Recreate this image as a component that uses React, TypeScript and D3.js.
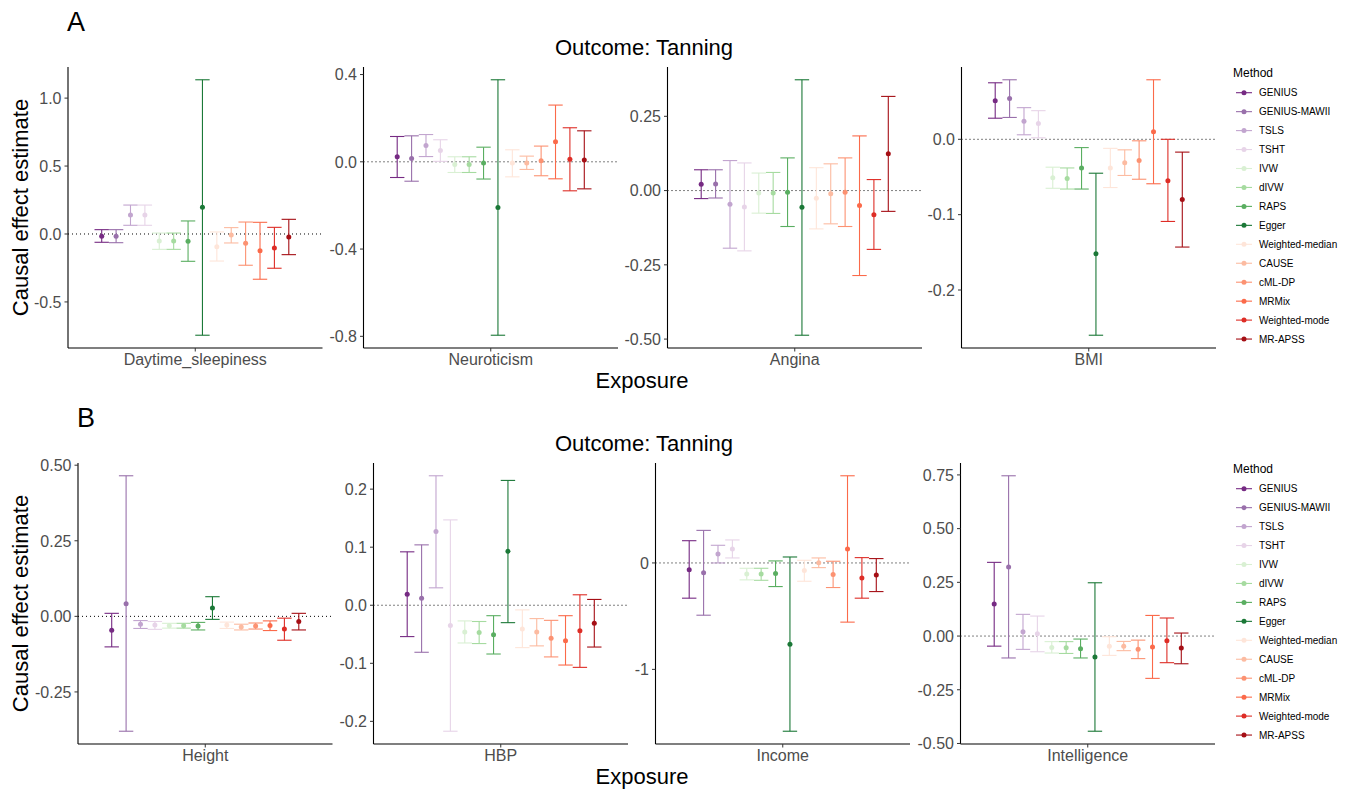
import React from "react";
import * as d3 from "d3";

const methods = [
  "GENIUS", "GENIUS-MAWII", "TSLS", "TSHT", "IVW", "dIVW", "RAPS", "Egger",
  "Weighted-median", "CAUSE", "cML-DP", "MRMix", "Weighted-mode", "MR-APSS",
];
const methodColors = [
  "#762a83", "#9970ab", "#c2a5cf", "#e7d4e8", "#d9f0d3", "#a6dba0", "#5aae61", "#1b7837",
  "#fee5d9", "#fcbba1", "#fc9272", "#fb6a4a", "#de2d26", "#a50f15",
];

const outcomeTitle = "Outcome: Tanning";

// Row A
const daytimeEst = [-0.017, -0.017, 0.14, 0.14, -0.051, -0.051, -0.054, 0.196, -0.093, -0.007, -0.069, -0.123, -0.103, -0.022];
const daytimeLo = [-0.061, -0.064, 0.064, 0.064, -0.113, -0.113, -0.201, -0.745, -0.199, -0.066, -0.23, -0.333, -0.252, -0.152];
const daytimeHi = [0.032, 0.032, 0.213, 0.213, 0.007, 0.007, 0.096, 1.135, 0.015, 0.047, 0.088, 0.086, 0.049, 0.108];
const daytimeTicks = ["-0.5", "0.0", "0.5", "1.0"];

const neuroEst = [0.023, 0.015, 0.075, 0.052, -0.012, -0.012, -0.006, -0.209, -0.006, -0.005, 0.005, 0.092, 0.012, 0.008];
const neuroLo = [-0.072, -0.089, 0.024, 0.002, -0.049, -0.049, -0.079, -0.795, -0.069, -0.035, -0.064, -0.078, -0.133, -0.124];
const neuroHi = [0.116, 0.119, 0.125, 0.101, 0.023, 0.023, 0.067, 0.376, 0.055, 0.026, 0.072, 0.26, 0.156, 0.142];
const neuroTicks = ["-0.8", "-0.4", "0.0", "0.4"];

const anginaEst = [0.021, 0.022, -0.046, -0.055, -0.008, -0.008, -0.006, -0.056, -0.026, -0.011, -0.006, -0.05, -0.081, 0.124];
const anginaLo = [-0.027, -0.025, -0.194, -0.203, -0.076, -0.077, -0.121, -0.487, -0.129, -0.112, -0.121, -0.286, -0.198, -0.07];
const anginaHi = [0.07, 0.07, 0.101, 0.093, 0.059, 0.061, 0.11, 0.373, 0.077, 0.09, 0.11, 0.184, 0.037, 0.317];
const anginaTicks = ["-0.50", "-0.25", "0.00", "0.25"];

const bmiEst = [0.051, 0.054, 0.024, 0.021, -0.051, -0.052, -0.038, -0.152, -0.038, -0.031, -0.028, 0.01, -0.055, -0.08];
const bmiLo = [0.028, 0.029, 0.006, 0.002, -0.065, -0.066, -0.066, -0.26, -0.064, -0.048, -0.053, -0.059, -0.109, -0.143];
const bmiHi = [0.075, 0.079, 0.042, 0.038, -0.037, -0.038, -0.011, -0.045, -0.012, -0.014, -0.002, 0.079, 0.0, -0.017];
const bmiTicks = ["-0.2", "-0.1", "0.0"];

// Row B
const heightEst = [-0.046, 0.042, -0.026, -0.029, -0.031, -0.031, -0.032, 0.028, -0.029, -0.035, -0.032, -0.03, -0.042, -0.017];
const heightLo = [-0.101, -0.38, -0.04, -0.043, -0.039, -0.039, -0.045, -0.01, -0.04, -0.045, -0.042, -0.047, -0.079, -0.045];
const heightHi = [0.01, 0.465, -0.014, -0.017, -0.023, -0.023, -0.02, 0.065, -0.019, -0.026, -0.022, -0.015, -0.006, 0.01];
const heightTicks = ["-0.25", "0.00", "0.25", "0.50"];

const hbpEst = [0.019, 0.012, 0.127, -0.035, -0.046, -0.047, -0.051, 0.093, -0.041, -0.046, -0.057, -0.061, -0.044, -0.031];
const hbpLo = [-0.054, -0.081, 0.03, -0.217, -0.065, -0.066, -0.084, -0.03, -0.073, -0.07, -0.089, -0.103, -0.107, -0.072];
const hbpHi = [0.092, 0.104, 0.223, 0.147, -0.027, -0.028, -0.018, 0.215, -0.008, -0.023, -0.026, -0.018, 0.018, 0.01];
const hbpTicks = ["-0.2", "-0.1", "0.0", "0.1", "0.2"];

const incomeEst = [-0.063, -0.091, 0.084, 0.131, -0.103, -0.103, -0.1, -0.763, -0.072, 0.003, -0.109, 0.131, -0.141, -0.113];
const incomeLo = [-0.331, -0.491, 0.0, 0.047, -0.159, -0.163, -0.222, -1.581, -0.172, -0.044, -0.231, -0.556, -0.331, -0.269];
const incomeHi = [0.209, 0.306, 0.166, 0.216, -0.05, -0.05, 0.019, 0.056, 0.025, 0.047, 0.016, 0.819, 0.05, 0.041];
const incomeTicks = ["-1", "0"];

const intelEst = [0.149, 0.321, 0.02, 0.011, -0.053, -0.054, -0.059, -0.098, -0.047, -0.047, -0.062, -0.051, -0.022, -0.056];
const intelLo = [-0.047, -0.102, -0.062, -0.073, -0.079, -0.081, -0.102, -0.443, -0.09, -0.068, -0.105, -0.197, -0.124, -0.129];
const intelHi = [0.343, 0.746, 0.101, 0.093, -0.026, -0.026, -0.014, 0.248, -0.003, -0.025, -0.019, 0.096, 0.084, 0.014];
const intelTicks = ["-0.50", "-0.25", "0.00", "0.25", "0.50", "0.75"];

const rowAExposures = ["Daytime_sleepiness", "Neuroticism", "Angina", "BMI"];
const rowBExposures = ["Height", "HBP", "Income", "Intelligence"];

type Panel = { name: string; est: number[]; lo: number[]; hi: number[]; ticks: string[] };

const rowAPanels: Panel[] = [
  { name: rowAExposures[0], est: daytimeEst, lo: daytimeLo, hi: daytimeHi, ticks: daytimeTicks },
  { name: rowAExposures[1], est: neuroEst, lo: neuroLo, hi: neuroHi, ticks: neuroTicks },
  { name: rowAExposures[2], est: anginaEst, lo: anginaLo, hi: anginaHi, ticks: anginaTicks },
  { name: rowAExposures[3], est: bmiEst, lo: bmiLo, hi: bmiHi, ticks: bmiTicks },
];
const rowBPanels: Panel[] = [
  { name: rowBExposures[0], est: heightEst, lo: heightLo, hi: heightHi, ticks: heightTicks },
  { name: rowBExposures[1], est: hbpEst, lo: hbpLo, hi: hbpHi, ticks: hbpTicks },
  { name: rowBExposures[2], est: incomeEst, lo: incomeLo, hi: incomeHi, ticks: incomeTicks },
  { name: rowBExposures[3], est: intelEst, lo: intelLo, hi: intelHi, ticks: intelTicks },
];

const FONT = "'Liberation Sans', Arial, Helvetica, sans-serif";
const PANEL_W = 254.5;
const PANEL_H = 281;

function PanelView({ p, left, top }: { p: Panel; left: number; top: number }) {
  const mn = d3.min(p.lo) as number;
  const mx = d3.max(p.hi) as number;
  const pad = (mx - mn) * 0.05;
  const y = d3.scaleLinear().domain([mn - pad, mx + pad]).range([top + PANEL_H, top]);
  // discrete x with 0.6 expansion on each side
  const x = d3.scaleLinear().domain([0.4, 1.6]).range([left, left + PANEL_W]);
  const dodge = 0.95;
  const step = dodge / methods.length;
  const xi = (i: number) => x(1 + (i - (methods.length - 1) / 2) * step);
  const capHalf = (x(1 + step) - x(1)) / 2;
  const bottom = top + PANEL_H;
  const cx = x(1);
  return (
    <g>
      {/* zero line */}
      <line x1={left} x2={left + PANEL_W} y1={y(0)} y2={y(0)} stroke="#000" strokeWidth={1} strokeDasharray="1,3" />
      {methods.map((m, i) => {
        const xc = xi(i);
        const c = methodColors[i];
        return (
          <g key={m}>
            <line x1={xc} x2={xc} y1={y(p.lo[i])} y2={y(p.hi[i])} stroke={c} strokeWidth={1.1} />
            <line x1={xc - capHalf} x2={xc + capHalf} y1={y(p.lo[i])} y2={y(p.lo[i])} stroke={c} strokeWidth={1.1} />
            <line x1={xc - capHalf} x2={xc + capHalf} y1={y(p.hi[i])} y2={y(p.hi[i])} stroke={c} strokeWidth={1.1} />
            <circle cx={xc} cy={y(p.est[i])} r={2.5} fill={c} />
          </g>
        );
      })}
      {/* axes */}
      <line x1={left} x2={left} y1={top} y2={bottom} stroke="#000" strokeWidth={1.1} />
      <line x1={left} x2={left + PANEL_W} y1={bottom} y2={bottom} stroke="#000" strokeWidth={1.1} />
      {p.ticks.map((t) => (
        <g key={t}>
          <line x1={left - 3.5} x2={left} y1={y(+t)} y2={y(+t)} stroke="#333" strokeWidth={1} />
          <text x={left - 6.5} y={y(+t)} dy="0.36em" textAnchor="end" fontSize={16} fill="#4d4d4d" fontFamily={FONT}>{t}</text>
        </g>
      ))}
      <line x1={cx} x2={cx} y1={bottom} y2={bottom + 3.5} stroke="#333" strokeWidth={1} />
      <text x={cx} y={bottom + 17} textAnchor="middle" fontSize={16} fill="#4d4d4d" fontFamily={FONT}>{p.name}</text>
    </g>
  );
}

function Legend({ top }: { top: number }) {
  return (
    <g fontFamily={FONT}>
      <text x={1233} y={top + 4.5} fontSize={12} fill="#000">Method</text>
      {methods.map((m, i) => {
        const yy = top + 20.7 + i * 18.95;
        return (
          <g key={m}>
            <line x1={1236} x2={1252} y1={yy} y2={yy} stroke={methodColors[i]} strokeWidth={1.1} />
            <circle cx={1244} cy={yy} r={2.5} fill={methodColors[i]} />
            <text x={1259} y={yy} dy="0.35em" fontSize={10} fill="#000">{m}</text>
          </g>
        );
      })}
    </g>
  );
}

function Row({ panels, lefts, top, tag, tagX }: { panels: Panel[]; lefts: number[]; top: number; tag: string; tagX: number }) {
  return (
    <g>
      <text x={tagX} y={top - 36} fontSize={27} fontFamily={FONT} fill="#000">{tag}</text>
      <text x={644} y={top - 12} textAnchor="middle" fontSize={22} fontFamily={FONT} fill="#000">{outcomeTitle}</text>
      {panels.map((p, i) => (
        <PanelView key={p.name} p={p} left={lefts[i]} top={top} />
      ))}
      <text x={642} y={top + PANEL_H + 40} textAnchor="middle" fontSize={22} fontFamily={FONT} fill="#000">Exposure</text>
      <text transform={`translate(27.5, ${top + PANEL_H / 2}) rotate(-90)`} textAnchor="middle" fontSize={22} fontFamily={FONT} fill="#000">Causal effect estimate</text>
      <Legend top={top + 5} />
    </g>
  );
}

export default function App() {
  return (
    <svg width={1349} height={791} style={{ position: "absolute", left: 0, top: 0, background: "#fff" }}>
      <rect width={1349} height={791} fill="#fff" />
      <Row panels={rowAPanels} lefts={[68, 363.5, 667.5, 961.5]} top={67} tag="A" tagX={67} />
      <Row panels={rowBPanels} lefts={[78, 373.5, 655.5, 960.5]} top={463} tag="B" tagX={77} />
    </svg>
  );
}
